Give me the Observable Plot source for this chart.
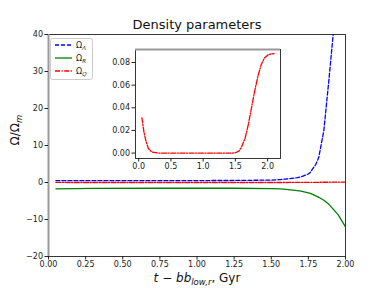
<!DOCTYPE html>
<html><head><meta charset="utf-8">
<script src="https://cdn.jsdelivr.net/npm/d3@7"></script>
<script src="https://cdn.jsdelivr.net/npm/@observablehq/plot@0.6"></script>
<style>
body{margin:0;background:#fff;font-family:"DejaVu Sans",sans-serif;}
#wrap{position:relative;width:384px;height:288px;overflow:hidden;}
#wrap > * {position:absolute;}
</style></head><body><div id="wrap"></div>
<script>
// main curves
const tMain =       [0.05, 0.3,  0.75, 1.25, 1.5,  1.56, 1.6,  1.675, 1.7,  1.75, 1.764, 1.8,  1.82, 1.854, 1.888, 1.917, 1.95, 2.0];
const omegaLambda = [0.5,  0.5,  0.5,  0.55, 0.65, 0.8,  0.95, 1.3,   1.5,  2.3,  2.8,   4.9,  6.8,  14,    27.6,  40,    65,   150];
const omegaR =      [-1.7, -1.6, -1.55,-1.55,-1.65,-1.75,-1.85,-2.2,  -2.35,-2.8, -2.95, -3.6, -4.0, -4.8,  -5.9,  -7.2,  -8.7, -12];
// Omega_Q (shown in main plot and inset)
const tQ =    [0.05, 0.08, 0.11, 0.15, 0.2,   0.3, 0.5, 1.0, 1.45, 1.5,    1.56,  1.6,   1.65,  1.7,   1.75,  1.8,   1.85,  1.9,   1.95,  2.0,   2.05,  2.1];
const omegaQ = [0.031,0.019,0.011,0.004,0.001, 0,   0,   0,   0,    0.0003, 0.002, 0.006, 0.013, 0.025, 0.040, 0.055, 0.068, 0.078, 0.084, 0.0865,0.0875,0.0878];

const xTicks = [0, 0.25, 0.5, 0.75, 1.0, 1.25, 1.5, 1.75, 2.0];
const yTicks = [-20, -10, 0, 10, 20, 30, 40];
const insetXTicks = [0, 0.5, 1.0, 1.5, 2.0];
const insetYTicks = [0, 0.02, 0.04, 0.06, 0.08];

const legendNames = [["Ω", "Λ"], ["Ω", "R"], ["Ω", "Q"]];
const legendColors = ["blue", "green", "red"];
const legendDash = ["4,2", "none", "5,1.5,1.2,1.5"];

const mainRows = tMain.map((t, i) => ({t, lambda: omegaLambda[i], r: omegaR[i]}));
const qRows = tQ.map((t, i) => ({t, q: omegaQ[i]}));
const qMain = qRows.filter(d => d.t <= 2.0);

const wrap = document.getElementById("wrap");
const font = {fontFamily: "DejaVu Sans, sans-serif", fontSize: "8px", background: "transparent", color: "#222"};

const main = Plot.plot({
  width: 384, height: 288,
  marginLeft: 48, marginRight: 39, marginTop: 34, marginBottom: 32,
  style: font,
  x: {domain: [0, 2], ticks: xTicks},
  y: {domain: [-20, 40], ticks: yTicks},
  marks: [
    Plot.line(mainRows, {x: "t", y: "lambda", stroke: "blue", strokeWidth: 1.3, strokeDasharray: "4,2", clip: true}),
    Plot.line(mainRows, {x: "t", y: "r", stroke: "green", strokeWidth: 1.3, clip: true}),
    Plot.line(qMain, {x: "t", y: "q", stroke: "red", strokeWidth: 1.3, strokeDasharray: "5,1.5,1.2,1.5", clip: true}),
    Plot.frame({stroke: "#222", strokeWidth: 0.9}),
    Plot.ruleX([0], {stroke: "#999", strokeWidth: 2}),
    Plot.axisX({ticks: xTicks, tickFormat: d3.format(".2f"), tickSize: 3.5, tickPadding: 1.5, label: null, fontSize: 8}),
    Plot.axisY({ticks: yTicks, tickFormat: d3.format("d"), tickSize: 3.5, tickPadding: 2, label: null, fontSize: 8}),
    Plot.text(["Density parameters"], {text: d => d, frameAnchor: "top", lineAnchor: "middle", dy: -10, fontSize: 13, fill: "#111"}),
    Plot.text(["XLABEL"], {text: d => d, frameAnchor: "bottom", lineAnchor: "middle", dy: 22, fontSize: 12, fill: "#111"}),
    Plot.text(["YLABEL"], {text: d => d, frameAnchor: "left", lineAnchor: "middle", dx: -33, rotate: -90, fontSize: 12, fill: "#111"})
  ]
});
main.style.left = "0px"; main.style.top = "0px";
wrap.appendChild(main);

const texts = d3.select(main).selectAll("text");
texts.filter(function() { return this.textContent === "XLABEL"; }).each(function() {
  const s = d3.select(this).text("");
  s.append("tspan").attr("font-style", "italic").text("t");
  s.append("tspan").text(" − ");
  s.append("tspan").attr("font-style", "italic").text("bb");
  s.append("tspan").attr("font-style", "italic").attr("font-size", "8.5").attr("dy", "2.5").text("low,r");
  s.append("tspan").attr("dy", "-2.5").text(", Gyr");
});
texts.filter(function() { return this.textContent === "YLABEL"; }).each(function() {
  const s = d3.select(this).text("");
  s.append("tspan").text("Ω/Ω");
  s.append("tspan").attr("font-style", "italic").attr("font-size", "8.5").attr("dy", "2.5").text("m");
});

// inset
const inset = Plot.plot({
  width: 190, height: 135,
  marginLeft: 35, marginRight: 10, marginTop: 9, marginBottom: 17,
  style: font,
  x: {domain: [-0.05, 2.2], ticks: insetXTicks},
  y: {domain: [-0.0048, 0.0915], ticks: insetYTicks},
  marks: [
    Plot.frame({fill: "white", stroke: "none"}),
    Plot.line(qRows, {x: "t", y: "q", stroke: "red", strokeWidth: 1.3, strokeDasharray: "5,1.5,1.2,1.5"}),
    Plot.frame({stroke: "#222", strokeWidth: 0.9}),
    Plot.ruleY([0.0915], {stroke: "#999", strokeWidth: 2}),
    Plot.axisX({ticks: insetXTicks, tickFormat: d3.format(".1f"), tickSize: 3.5, tickPadding: 1.5, label: null, fontSize: 8}),
    Plot.axisY({ticks: insetYTicks, tickFormat: d3.format(".2f"), tickSize: 3.5, tickPadding: 2, label: null, fontSize: 8})
  ]
});
inset.style.left = "100px"; inset.style.top = "40px";
wrap.appendChild(inset);

// legend
const leg = d3.select(wrap).append("svg")
  .attr("width", 44).attr("height", 43)
  .style("left", "50px").style("top", "38px");
leg.append("rect").attr("x", 0.5).attr("y", 0.5).attr("width", 42).attr("height", 41)
  .attr("rx", 2).attr("fill", "white").attr("fill-opacity", 0.85).attr("stroke", "#ccc").attr("stroke-width", 1);
legendNames.forEach((n, i) => {
  const y = 7 + i * 13;
  leg.append("line").attr("x1", 5).attr("x2", 22).attr("y1", y).attr("y2", y)
    .attr("stroke", legendColors[i]).attr("stroke-width", 1.3).attr("stroke-dasharray", legendDash[i]);
  const t = leg.append("text").attr("x", 26).attr("y", y + 3).attr("font-size", 8)
    .attr("font-family", "DejaVu Sans, sans-serif").attr("fill", "#222");
  t.append("tspan").text(n[0]);
  t.append("tspan").attr("font-size", 5.5).attr("dy", 2).attr("font-style", "italic").text(n[1]);
});
</script>
</body></html>
